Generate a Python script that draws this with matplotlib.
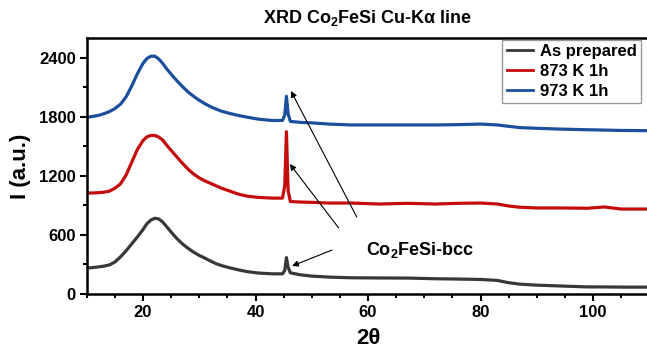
import matplotlib
matplotlib.use("Agg")
import matplotlib.pyplot as plt
from matplotlib.ticker import MultipleLocator

plt.rcParams['font.family'] = ['Liberation Sans', 'DejaVu Sans']
plt.rcParams['font.weight'] = 'bold'
plt.rcParams['mathtext.fontset'] = 'custom'
plt.rcParams['mathtext.rm'] = 'Liberation Sans:bold'
plt.rcParams['mathtext.bf'] = 'Liberation Sans:bold'
plt.rcParams['mathtext.it'] = 'Liberation Sans:italic:bold'

# ---- data ----
angles = [10, 11, 12, 13, 14, 15, 16, 17, 18, 19, 20, 20.7, 21.4, 22.1, 22.8, 23.5, 24.2,
          25, 26, 27, 28, 29, 30, 31, 32, 33, 34, 35.5, 37, 38.5, 40.5, 43, 44.8,
          45.2, 45.5, 45.8, 46.2, 48, 50, 53, 57, 62, 67, 72, 76, 80, 83, 85, 87,
          90, 94, 99, 102, 105, 110]

as_prepared = [264, 268, 275, 283, 295, 325, 378, 440, 510, 580, 655, 715, 752, 770, 763, 732, 685,
               630, 565, 510, 465, 425, 392, 365, 335, 308, 288, 265, 245, 228, 213, 205, 205,
               240, 370, 270, 215, 195, 182, 172, 165, 163, 162, 155, 152, 148, 138, 115, 100,
               90, 82, 72, 72, 70, 70]

k873_1h = [1027, 1027, 1030, 1035, 1045, 1075, 1120, 1210, 1340, 1470, 1560, 1598, 1612, 1612, 1596, 1565, 1515,
           1460, 1395, 1330, 1270, 1220, 1180, 1150, 1125, 1100, 1075, 1045, 1015, 995, 982, 975, 975,
           1100, 1650, 1050, 940, 935, 932, 925, 925, 915, 922, 915, 922, 925, 915, 895, 882,
           875, 875, 872, 885, 864, 864]

k973_1h = [1797, 1805, 1815, 1832, 1854, 1885, 1930, 2005, 2115, 2240, 2345, 2395, 2418, 2418, 2390, 2345, 2290,
           2235, 2170, 2110, 2055, 2010, 1970, 1935, 1905, 1880, 1858, 1835, 1815, 1798, 1778, 1764, 1765,
           1820, 2010, 1830, 1755, 1745, 1740, 1728, 1719, 1719, 1719, 1719, 1722, 1728, 1719, 1705, 1692,
           1685, 1677, 1670, 1667, 1663, 1661]

series_labels = ["As prepared", "873 K 1h", "973 K 1h"]
series_colors = ["#383838", "#c40c0c", "#1b4f9c"]

# arrows: (tail x, tail y) -> (head x, head y)
arrows = [((58.0, 783), (46.3, 2064)),
          ((54.8, 671), (46.1, 1322)),
          ((53.6, 447), (46.5, 285))]

fig = plt.figure(figsize=(6.47, 3.57), dpi=100)
ax = fig.add_axes([86.75 / 647, 63 / 357, 562.5 / 647, 255.7 / 357])

for ys, lab, col in zip([as_prepared, k873_1h, k973_1h], series_labels, series_colors):
    ax.plot(angles, ys, color=col, lw=2.3, label=lab, solid_joinstyle='round')

for (tx, ty), (hx, hy) in arrows:
    ax.annotate('', xy=(hx, hy), xytext=(tx, ty),
                arrowprops=dict(arrowstyle='-|>', color='black', lw=0.8,
                                mutation_scale=9, shrinkA=0, shrinkB=0))

ax.text(59.6, 447, r"Co$_\mathbf{2}$FeSi-bcc", fontsize=13, fontweight='bold',
        va='center', ha='left')

ax.set_xlim(10, 110)
ax.set_ylim(0, 2600)
ax.xaxis.set_major_locator(MultipleLocator(20))
ax.xaxis.set_minor_locator(MultipleLocator(5))
ax.yaxis.set_major_locator(MultipleLocator(600))
ax.yaxis.set_minor_locator(MultipleLocator(300))
ax.tick_params(which='major', direction='out', length=5, width=1.5, labelsize=12, pad=3)
ax.tick_params(which='minor', direction='out', length=3, width=1.5)
for lbl in ax.get_xticklabels() + ax.get_yticklabels():
    lbl.set_fontweight('bold')
for s in ax.spines.values():
    s.set_linewidth(1.8)

ax.set_xlabel(r"2θ", fontsize=16, fontweight='bold', labelpad=6)
ax.set_ylabel("I (a.u.)", fontsize=16, fontweight='bold', labelpad=6)
ax.set_title(r"XRD Co$_\mathbf{2}$FeSi Cu-Kα line", fontsize=13, fontweight='bold', pad=11)

leg = ax.legend(loc='upper right', bbox_to_anchor=(641 / 647, 317 / 357),
                bbox_transform=fig.transFigure, borderaxespad=0, fontsize=12,
                frameon=True, fancybox=False, handlelength=1.6, handletextpad=0.4,
                labelspacing=0.3, borderpad=0.25)
leg.get_frame().set_edgecolor('#808080')
leg.get_frame().set_linewidth(1.0)
for t in leg.get_texts():
    t.set_fontweight('bold')
for h in leg.legend_handles:
    h.set_linewidth(2)

fig.savefig("out.png", dpi=100)
